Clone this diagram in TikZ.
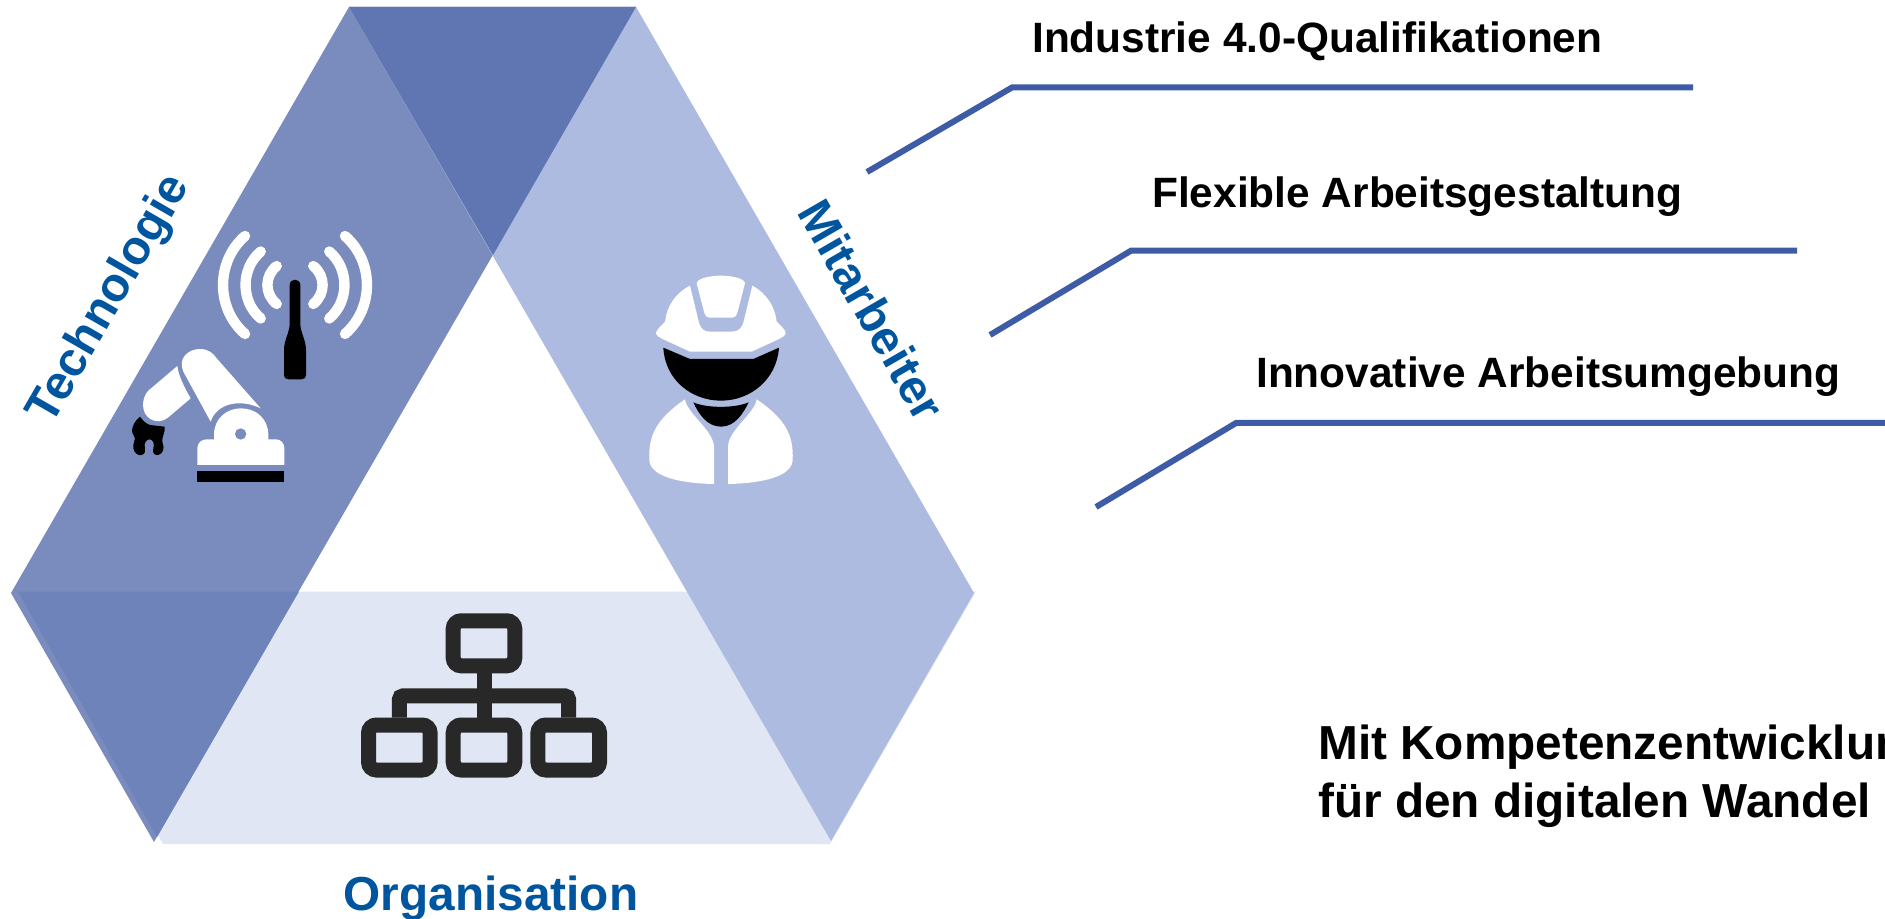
\documentclass[tikz,border=0pt]{standalone}
\usepackage{fontspec}
\setmainfont{Liberation Sans}
\usepackage{tikz}
\definecolor{orgfill}{HTML}{E0E6F3}
\definecolor{techfill}{HTML}{7A8BBE}
\definecolor{mitfill}{HTML}{AEBBE0}
\definecolor{topfill}{HTML}{5F76B3}
\definecolor{leftfill}{HTML}{6E83BA}
\definecolor{leadblue}{HTML}{3E5BA6}
\definecolor{titleblue}{HTML}{00559F}
\definecolor{orgdark}{HTML}{282828}
\tikzset{
  leadline/.style={draw=leadblue,line width=4.5pt},
  itemtext/.style={anchor=base west,inner sep=0pt,font=\fontsize{31.8}{38}\selectfont\bfseries},
  bandtext/.style={anchor=center,inner sep=0pt,text=titleblue,font=\fontsize{35.8}{42}\selectfont\bfseries},
  orgbox/.style={draw=orgdark,line width=11.25pt,rounded corners=6pt,minimum width=46.2pt,minimum height=33.75pt,inner sep=0pt},
  orgline/.style={draw=orgdark,line width=11.25pt},
  wave/.style={draw=white,line width=7.8pt,line cap=round},
}
\begin{document}
\begin{tikzpicture}[x=0.75pt,y=0.75pt,yscale=-1,xscale=1]
\useasboundingbox (0,0) rectangle (1885,919);

%Shape: bands
\fill [orgfill] (18,591.5) -- (976,591.5) -- (830,844) -- (163,844) -- cycle ;
\fill [techfill] (349,7) -- (636,7) -- (154,842) -- (11,593) -- cycle ;
\fill [mitfill] (349,7) -- (636,7) -- (974,593) -- (831,841) -- cycle ;
\fill [topfill] (349,7) -- (636,7) -- (493,255) -- cycle ;
\fill [leftfill] (18,591.5) -- (299,591.5) -- (157,837) -- cycle ;

%Shape: antenna
\begin{scope}[shift={(295,285)}]
\foreach \side in {1,-1} {
\begin{scope}[xscale=\side]
\draw [wave] (50,-49) .. controls (79.3,-23.3) and (79.3,23.3) .. (50,49) ;
\draw [wave] (34.3,-33.5) .. controls (54.5,-16) and (54.5,16) .. (34.3,33.5) ;
\draw [wave] (18.3,-19) .. controls (30.7,-9) and (30.7,9) .. (18.3,19) ;
\end{scope}
}
\end{scope}
\fill [black] (289.7,285) .. controls (289.7,278) and (300.3,278) .. (300.3,285) -- (300.3,324) .. controls (300.3,332) and (306,340) .. (306,350) -- (306,374) .. controls (306,378) and (304,379.5) .. (301,379.5) -- (289,379.5) .. controls (286,379.5) and (284,378) .. (284,374) -- (284,350) .. controls (284,340) and (289.7,332) .. (289.7,324) -- cycle ;

%Shape: robot
\begin{scope}[shift={(100,200)},scale=1/3]
\fill [black] (120,650) .. controls (105,662) and (95,680) .. (96,695) .. controls (97,705) and (105,708) .. (105,715) .. controls (105,725) and (98,730) .. (100,745) .. controls (103,760) and (115,768) .. (125,765) .. controls (135,762) and (138,752) .. (135,745) .. controls (130,730) and (140,718) .. (148,718) .. controls (158,718) and (165,730) .. (160,745) .. controls (155,758) and (165,768) .. (175,765) .. controls (188,762) and (195,745) .. (188,730) .. controls (183,718) and (192,705) .. (194,690) -- (194,680) -- (150,675) .. controls (135,670) and (128,660) .. (120,650) -- cycle ;
\fill [white] (292,795) -- (292,745) .. controls (292,728) and (305,718) .. (320,718) -- (342,718) -- (342,705) .. controls (342,655) and (380,625) .. (423,625) .. controls (467,625) and (505,655) .. (505,705) -- (505,718) -- (528,718) .. controls (543,718) and (553,730) .. (553,745) -- (553,795) -- cycle ;
\fill [techfill] (422,702) circle [radius=17] ;
\fill [black] (292,813) rectangle (553,845) ;
\fill [white] (332,665) -- (250,515) .. controls (232,475) and (265,447) .. (300,447) .. controls (325,447) and (340,460) .. (350,475) -- (482,625) .. controls (420,595) and (350,610) .. (332,665) -- cycle ;
\fill [white] (232,498) .. controls (236,530) and (255,565) .. (272,595) -- (205,652) .. controls (180,672) and (150,665) .. (135,640) .. controls (125,620) and (128,590) .. (145,572) -- cycle ;
\end{scope}

%Shape: worker
\begin{scope}[shift={(620,250)},scale=1/3]
\fill [white] (230,100) .. controls (232,85) and (270,77) .. (303,77) .. controls (336,77) and (373,85) .. (375,100) -- (353,185) .. controls (350,197) and (345,203) .. (335,203) -- (270,203) .. controls (260,203) and (255,197) .. (252,185) -- cycle ;
\fill [white] (210,107) -- (235,210) .. controls (240,235) and (250,245) .. (270,245) -- (335,245) .. controls (355,245) and (367,235) .. (372,210) -- (397,107) .. controls (440,130) and (465,170) .. (470,215) .. controls (485,230) and (497,240) .. (497,250) .. controls (495,258) and (485,263) .. (475,268) -- (395,305) -- (210,305) -- (130,268) .. controls (120,263) and (110,258) .. (108,250) .. controls (108,240) and (122,230) .. (135,215) .. controls (140,170) and (165,130) .. (210,107) -- cycle ;
\fill [black] (130,293) -- (210,327) -- (400,327) -- (477,293) .. controls (470,390) and (390,452) .. (303,452) .. controls (215,452) and (135,390) .. (130,293) -- cycle ;
\fill [black] (220,457) .. controls (260,475) and (345,475) .. (386,457) .. controls (370,490) and (345,530) .. (303,530) .. controls (260,530) and (235,490) .. (220,457) -- cycle ;
\fill [white] (195,448) .. controls (200,490) and (280,540) .. (282,590) -- (282,702) .. controls (180,700) and (90,680) .. (88,630) .. controls (85,560) and (105,510) .. (195,448) -- cycle ;
\fill [white] (410,448) .. controls (405,490) and (325,540) .. (324,590) -- (324,702) .. controls (426,700) and (516,680) .. (518,630) .. controls (521,560) and (501,510) .. (410,448) -- cycle ;
\end{scope}

%Shape: organisation chart
\node (orgtop) [orgbox] at (484,643.3) {};
\node (orgleft) [orgbox] at (399.3,747.5) {};
\node (orgmid) [orgbox] at (484,747.5) {};
\node (orgright) [orgbox] at (568.7,747.5) {};
\coordinate (orgrail) at (484,695.8);
\draw [orgline] (orgtop) -- (orgmid) ;
\draw [orgline,rounded corners=3pt] (orgleft.north) |- (orgrail) -| (orgright.north) ;

%Shape: lead lines
\coordinate (leadoneA) at (867,172);
\coordinate (leadoneB) at (1012,87.5);
\coordinate (leadoneC) at (1693,87.5);
\coordinate (leadtwoA) at (990,335);
\coordinate (leadtwoB) at (1131,250.7);
\coordinate (leadtwoC) at (1797,250.7);
\coordinate (leadthreeA) at (1096,507);
\coordinate (leadthreeB) at (1236,423);
\coordinate (leadthreeC) at (1885,423);
\draw [leadline] (leadoneA) -- (leadoneB) -- (leadoneC) ;
\draw [leadline] (leadtwoA) -- (leadtwoB) -- (leadtwoC) ;
\draw [leadline] (leadthreeA) -- (leadthreeB) -- (leadthreeC) ;

% Text Node
\draw (1032,52.5) node (itemone) [itemtext] {Industrie 4.0-Qualifikationen};
% Text Node
\draw (1152,208) node (itemtwo) [itemtext] {Flexible Arbeitsgestaltung};
% Text Node
\draw (1256,388) node (itemthree) [itemtext] {Innovative Arbeitsumgebung};
% Text Node
\draw (1318,817) node (closing) [itemtext,align=left,font=\fontsize{35.8}{43.5}\selectfont\bfseries] {Mit Kompetenzentwicklun\\für den digitalen Wandel};
% Text Node
\draw (491,910) node (organisation) [bandtext,anchor=base] {Organisation};
% Text Node
\draw (110,300) node (technologie) [bandtext,rotate=60] {Technologie};
% Text Node
\draw (872,310) node (mitarbeiter) [bandtext,rotate=-60] {Mitarbeiter};

\end{tikzpicture}
\end{document}
